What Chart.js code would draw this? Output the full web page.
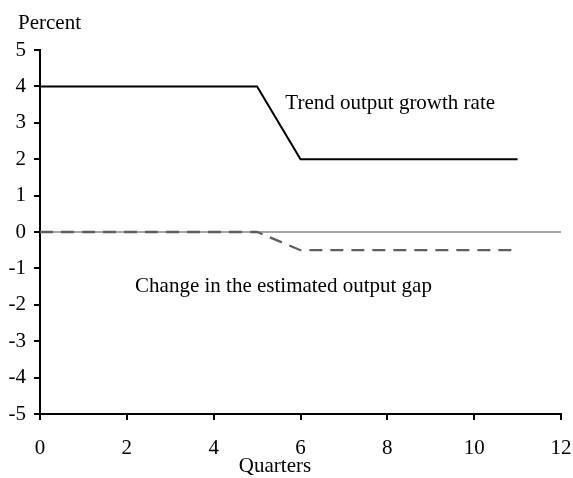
<!DOCTYPE html>
<html lang="en">
<head>
<meta charset="UTF-8">
<title>Trend output growth and output gap</title>
<script src="https://cdn.jsdelivr.net/npm/chart.js@4"></script>
<style>
  html, body { margin: 0; padding: 0; background: #fff; }
  #wrap { width: 573px; height: 478px; }
</style>
</head>
<body>
<div id="wrap"><canvas id="chart"></canvas></div>
<script>
const quarters = [0, 1, 2, 3, 4, 5, 6, 7, 8, 9, 10, 11];
const trendGrowth = [4, 4, 4, 4, 4, 4, 2, 2, 2, 2, 2, 2];
const gapChange = [0, 0, 0, 0, 0, 0, -0.5, -0.5, -0.5, -0.5, -0.5, -0.5];
const zeroLineX = [0, 12];
const zeroLineY = [0, 0];

const labelTexts = ['Trend output growth rate', 'Change in the estimated output gap'];
const labelX = [5.65, 2.19];
const labelY = [3.52, -1.5];

const FONT = '"Liberation Serif", "Times New Roman", serif';

function pts(xs, ys) { return xs.map((x, i) => ({ x: x, y: ys[i] })); }

const textPlugin = {
  id: 'texts',
  afterDraw(chart) {
    const c = chart.ctx;
    const xs = chart.scales.x, ys = chart.scales.y;
    c.save();
    c.fillStyle = '#000';
    c.font = '21px ' + FONT;
    c.textBaseline = 'middle';
    c.textAlign = 'left';
    labelTexts.forEach((t, i) => {
      c.fillText(t, xs.getPixelForValue(labelX[i]), ys.getPixelForValue(labelY[i]));
    });
    c.fillText('Percent', 18, 23);
    c.textAlign = 'center';
    c.fillText('Quarters', 275, 466);
    c.restore();
  }
};

new Chart(document.getElementById('chart'), {
  type: 'line',
  data: {
    datasets: [{
      label: 'Zero',
      data: pts(zeroLineX, zeroLineY),
      borderColor: '#888',
      borderWidth: 1.3,
      pointRadius: 0,
      order: 3
    }, {
      label: 'Change in the estimated output gap',
      data: pts(quarters, gapChange),
      borderColor: '#5f5f5f',
      borderWidth: 2.3,
      borderDash: [13, 8],
      pointRadius: 0,
      order: 2
    }, {
      label: 'Trend output growth rate',
      data: pts(quarters, trendGrowth),
      borderColor: '#000',
      borderWidth: 2,
      pointRadius: 0,
      order: 1
    }]
  },
  options: {
    responsive: true,
    maintainAspectRatio: false,
    animation: false,
    layout: { padding: { top: 50, right: 12, left: 0, bottom: 0 } },
    plugins: { legend: { display: false }, tooltip: { enabled: false } },
    scales: {
      x: {
        type: 'linear',
        min: 0, max: 12,
        afterFit(s) { s.height = 64; s.paddingLeft = 0; s.paddingRight = 0; },
        border: { color: '#000', width: 2 },
        grid: { drawOnChartArea: false, drawTicks: true, tickLength: 6, color: '#000', lineWidth: 2 },
        ticks: { stepSize: 2, color: '#000', padding: 16, font: { family: FONT, size: 21 }, maxRotation: 0 }
      },
      y: {
        min: -5, max: 5,
        afterFit(s) { s.width = 40; s.paddingTop = 0; s.paddingBottom = 0; },
        border: { color: '#000', width: 2 },
        grid: { drawOnChartArea: false, drawTicks: true, tickLength: 6, color: '#000', lineWidth: 2 },
        ticks: { stepSize: 1, color: '#000', padding: 8, font: { family: FONT, size: 21 } }
      }
    }
  },
  plugins: [textPlugin]
});
</script>
</body>
</html>
